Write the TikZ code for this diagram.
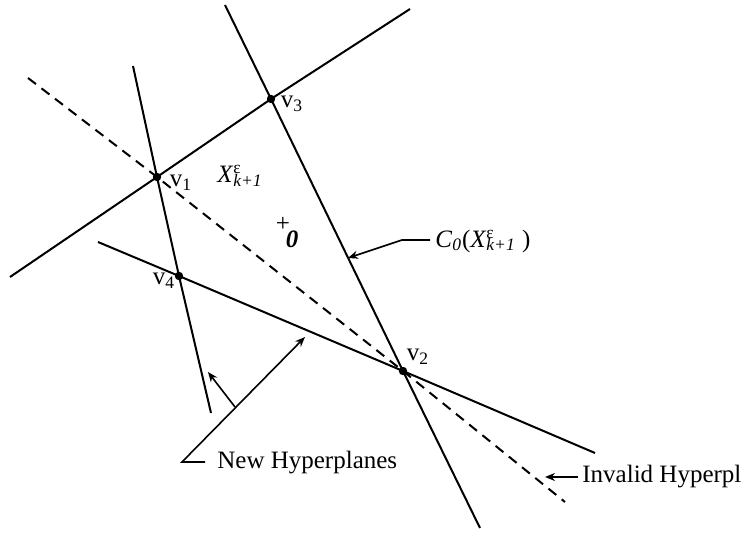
\documentclass[tikz,border=0pt]{standalone}
\usepackage{fontspec}
\setmainfont{Liberation Serif}
\usetikzlibrary{arrows.meta}

\tikzset{
  plane/.style={line width=1pt},
  leader/.style={line width=0.8pt},
  pointer/.style={leader, -{Stealth[length=5pt,width=4pt]}},
  vertex/.style={circle, fill, inner sep=0pt, minimum size=4.2pt},
  lbl/.style={inner sep=0pt, font=\fontsize{12.5}{14}\selectfont},
}

\begin{document}
\begin{tikzpicture}[x=0.5pt, y=-0.5pt]
    \useasboundingbox (0,0) rectangle (746,535);

    % Vertices
    \coordinate (v1) at (157,177);
    \coordinate (v2) at (403,371);
    \coordinate (v3) at (271,99);
    \coordinate (v4) at (179,276);

    % Ends of the hyperplanes
    \coordinate (a1) at (10,277);  \coordinate (b1) at (410,9);
    \coordinate (a2) at (133,66);  \coordinate (b2) at (211,413);
    \coordinate (a3) at (225,5);   \coordinate (b3) at (480,528);
    \coordinate (a4) at (98,242);  \coordinate (b4) at (595,453);
    \coordinate (a5) at (28,78);   \coordinate (b5) at (565,502);

    % Hyperplanes
    \draw[plane] (a1) -- (v1) -- (v3) -- (b1);
    \draw[plane] (a2) -- (v1) -- (v4) -- (b2);
    \draw[plane] (a3) -- (v3) -- (v2) -- (b3);
    \draw[plane] (a4) -- (v4) -- (v2) -- (b4);

    % Invalid hyperplane
    \draw[plane, dash pattern=on 5pt off 3.5pt] (a5) -- (v1) -- (v2) -- (b5);

    % Vertex dots
    \foreach \v in {v1,v2,v3,v4}
        \node[vertex] (dot\v) at (\v) {};

    % Vertex labels
    \node[lbl] (lv1) at (181,183) {v\textsubscript{1}};
    \node[lbl] (lv2) at (418,357) {v\textsubscript{2}};
    \node[lbl] (lv3) at (292,104) {v\textsubscript{3}};
    \node[lbl] (lv4) at (164,281) {v\textsubscript{4}};

    % Region and origin
    \node[lbl] (lx) at (240,176) {\textit{X}\rlap{\textsuperscript{ε}}\textsubscript{\textit{k+1}}};
    \node[lbl] (plus) at (283,224) {+};
    \node[lbl] (zero) at (292,239) {\textbf{\textit{0}}};

    % Cone label
    \node[lbl, anchor=west] (lc0) at (435,241)
        {\textit{C}\textsubscript{\textit{0}}(\textit{X}\rlap{\textsuperscript{ε}}\textsubscript{\textit{k+1}}~)};
    \coordinate (c0a) at (430,240);
    \coordinate (c0b) at (402,240);
    \coordinate (c0t) at (348,258);
    \draw[pointer] (c0a) -- (c0b) -- (c0t);

    % New hyperplanes
    \node[lbl, anchor=base west] (lnew) at (217,468) {New Hyperplanes};
    \coordinate (nh0) at (205,462);
    \coordinate (nh1) at (182,462);
    \coordinate (nh2) at (305,337);
    \coordinate (nhb) at (235,407);
    \coordinate (nh3) at (208,372);
    \draw[pointer] (nh0) -- (nh1) -- (nh2);
    \draw[pointer] (nhb) -- (nh3);

    % Invalid hyperplane label
    \node[lbl, anchor=base west] (linv) at (582,482) {Invalid Hyperpl};
    \coordinate (iv0) at (578,477);
    \coordinate (iv1) at (545,477);
    \draw[pointer] (iv0) -- (iv1);
\end{tikzpicture}
\end{document}
